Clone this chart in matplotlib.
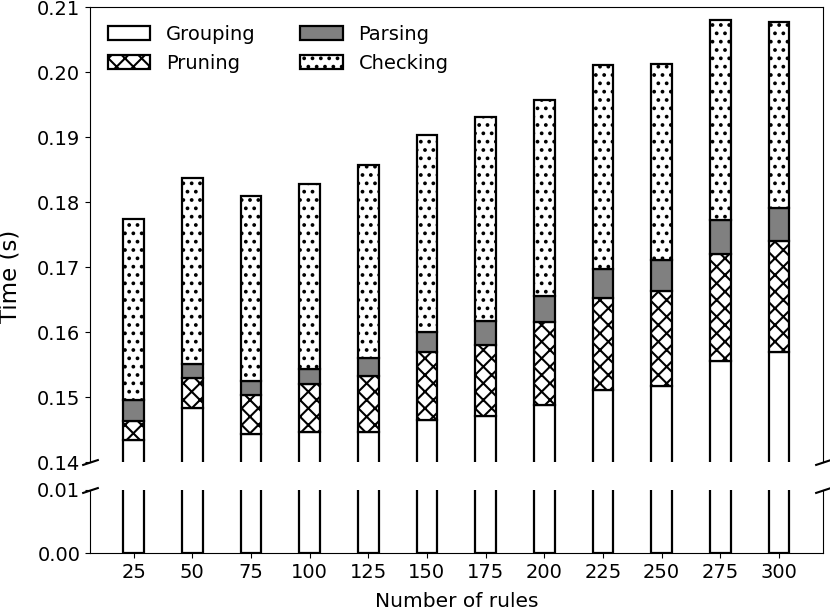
import numpy as np
import matplotlib
matplotlib.use("Agg")
import matplotlib.pyplot as plt

plt.rcParams['font.size'] = 14
plt.rcParams['hatch.linewidth'] = 1.5

rules = ["25", "50", "75", "100", "125", "150", "175", "200", "225", "250", "275", "300"]
grouping = [0.1435, 0.1483, 0.1443, 0.1447, 0.1447, 0.1465, 0.1472, 0.1488, 0.1512, 0.1518, 0.1556, 0.1569]
pruning  = [0.0029, 0.0047, 0.0060, 0.0073, 0.0086, 0.0104, 0.0108, 0.0128, 0.0141, 0.0146, 0.0164, 0.0172]
parsing  = [0.0032, 0.0021, 0.0022, 0.0024, 0.0028, 0.0032, 0.0037, 0.0040, 0.0044, 0.0047, 0.0053, 0.0051]
checking = [0.0279, 0.0287, 0.0285, 0.0284, 0.0296, 0.0303, 0.0314, 0.0301, 0.0315, 0.0302, 0.0308, 0.0285]

x = np.arange(len(rules))
g = np.array(grouping); pr = np.array(pruning); pa = np.array(parsing); ch = np.array(checking)

fig = plt.figure(figsize=(8.3, 6.16), dpi=100)
ax_top = fig.add_axes([90/830, (616-462.3)/616, 732.5/830, 455/616])
ax_bot = fig.add_axes([90/830, (616-553.3)/616, 732.5/830, 63.3/616], sharex=ax_top)

w = 0.35
lw = 1.6
for ax in (ax_top, ax_bot):
    ax.bar(x, g, w, color='white', edgecolor='black', linewidth=lw, label='Grouping')
    ax.bar(x, pr, w, bottom=g, color='white', edgecolor='black', linewidth=lw, hatch='xx', label='Pruning')
    ax.bar(x, pa, w, bottom=g + pr, color='grey', edgecolor='black', linewidth=lw, label='Parsing')
    ax.bar(x, ch, w, bottom=g + pr + pa, color='white', edgecolor='black', linewidth=lw, hatch='..', label='Checking')

ax_top.set_ylim(0.14, 0.21)
ax_top.set_yticks(np.arange(0.14, 0.2101, 0.01))
ax_top.yaxis.set_major_formatter(matplotlib.ticker.FormatStrFormatter('%.2f'))
ax_bot.set_ylim(0, 0.01)
ax_bot.set_yticks([0.0, 0.01])
ax_bot.yaxis.set_major_formatter(matplotlib.ticker.FormatStrFormatter('%.2f'))

ax_top.spines['bottom'].set_visible(False)
ax_bot.spines['top'].set_visible(False)
ax_top.tick_params(axis='x', bottom=False, labelbottom=False)
ax_bot.set_xticks(x)
ax_bot.set_xticklabels(rules)
ax_bot.set_xlabel('Number of rules', fontsize=14.5, labelpad=7.5)

fig.text(10/830, 1 - 276/616, 'Time (s)', rotation=90, ha='center', va='center', fontsize=16.5)

d = 0.33
kw = dict(marker=[(-1, -d), (1, d)], markersize=12, linestyle='none', color='k', mec='k', mew=1.5, clip_on=False)
ax_top.plot([0, 1], [0, 0], transform=ax_top.transAxes, **kw)
ax_bot.plot([0, 1], [1, 1], transform=ax_bot.transAxes, **kw)

ax_top.legend(loc='upper left', ncol=2, frameon=False, handlelength=2.2, columnspacing=2.3)

fig.savefig('out.png', dpi=100)
